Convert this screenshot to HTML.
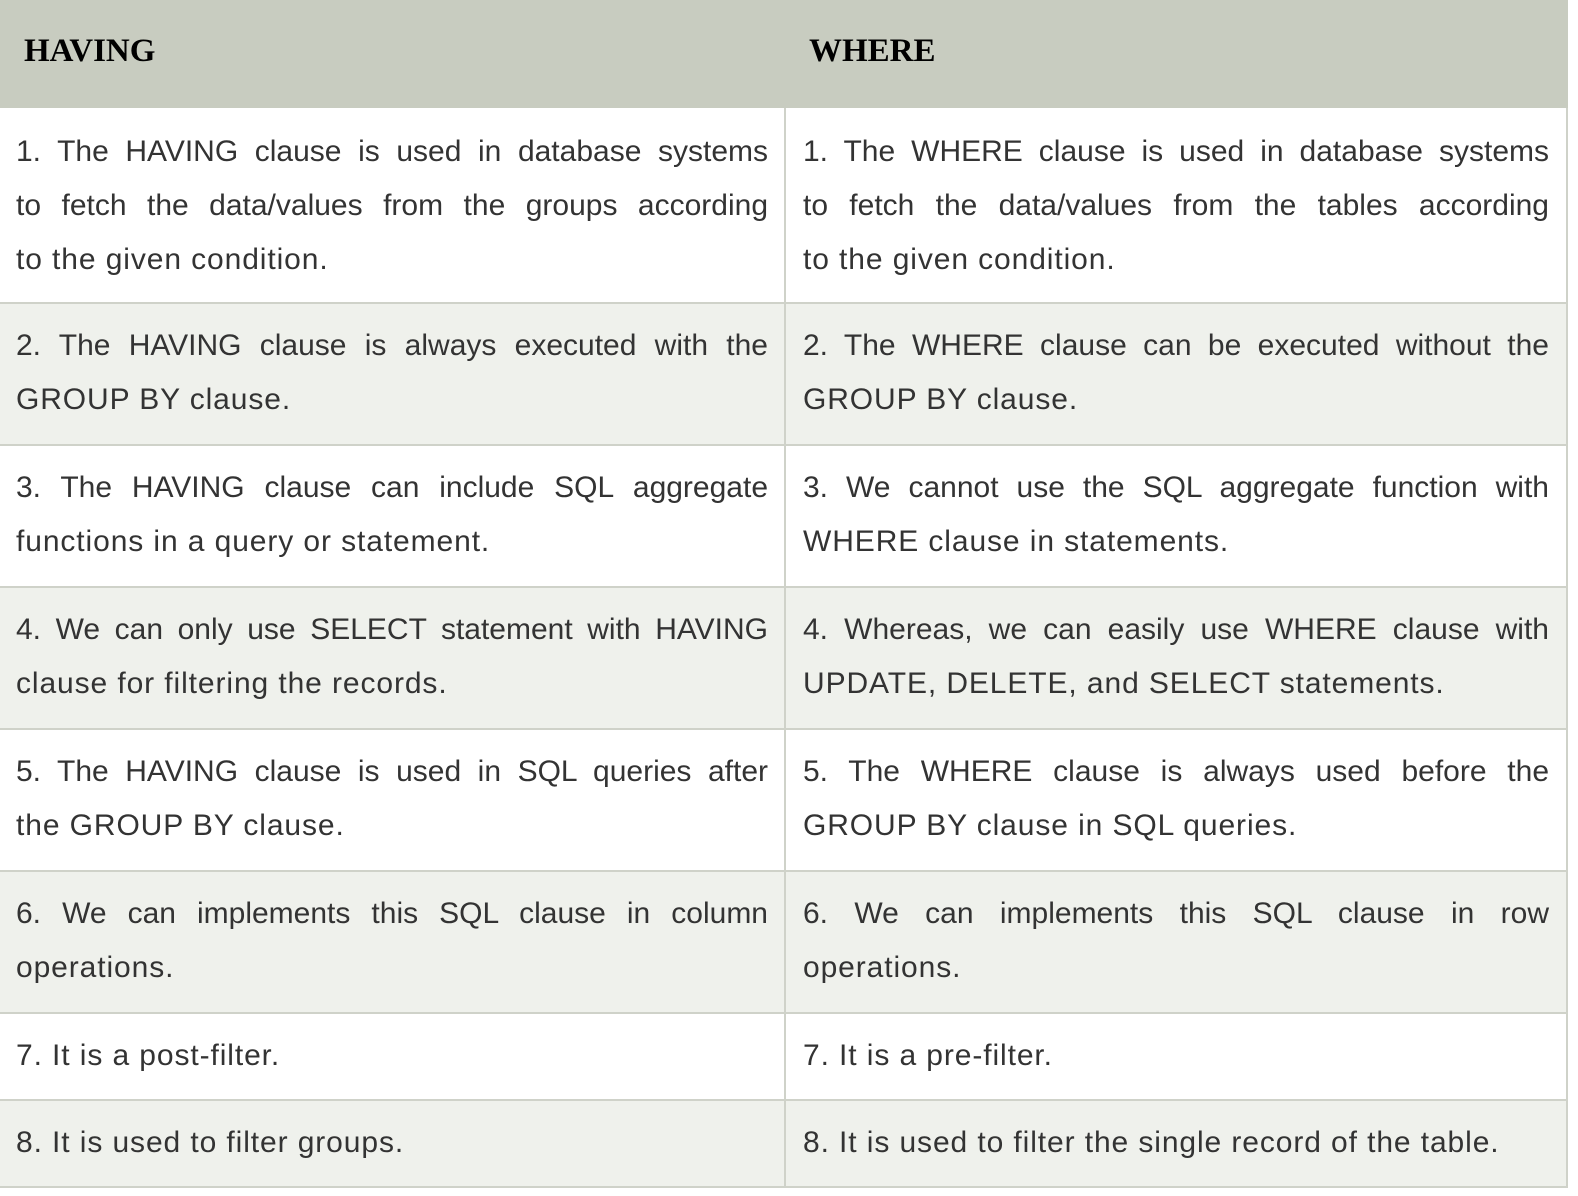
<!DOCTYPE html>
<html><head><meta charset="utf-8"><style>
*{margin:0;padding:0;box-sizing:border-box}
body{width:1578px;height:1196px;background:#fff;position:relative;overflow:hidden;font-family:"Liberation Sans",sans-serif;color:#333}
.hdr{position:absolute;left:0;top:0;width:1568px;height:108px;background:#c8ccc0}
.h{position:absolute;top:33px;font-family:"Liberation Serif",serif;font-weight:bold;font-size:33px;color:#000}
.row{position:absolute;left:0;width:1568px;border-bottom:2px solid #cfd2c9;border-right:2px solid #cfd2c9}
.alt{background:#eff1ec}
.vline{position:absolute;left:784px;top:108px;width:2px;height:1080px;background:#cfd2c9}
.c{position:absolute;top:17px;width:752px;font-size:30px;line-height:54px;letter-spacing:0.9px}
.c span{display:block;white-space:nowrap}
.c span.j{text-align:justify;text-align-last:justify;white-space:normal;letter-spacing:0}
.l{left:16px}.r{left:803px;width:746px}
</style></head><body>
<div class="hdr"><div class="h" style="left:24px">HAVING</div><div class="h" style="left:809px">WHERE</div></div>

<div class="row" style="top:108px;height:196px">
<div class="c l"><span class="j">1. The HAVING clause is used in database systems</span><span class="j">to fetch the data/values from the groups according</span><span>to the given condition.</span></div>
<div class="c r"><span class="j">1. The WHERE clause is used in database systems</span><span class="j">to fetch the data/values from the tables according</span><span>to the given condition.</span></div>
</div>
<div class="row alt" style="top:304px;height:142px">
<div class="c l" style="top:15px"><span class="j">2. The HAVING clause is always executed with the</span><span>GROUP BY clause.</span></div>
<div class="c r" style="top:15px"><span class="j">2. The WHERE clause can be executed without the</span><span>GROUP BY clause.</span></div>
</div>
<div class="row" style="top:446px;height:142px">
<div class="c l" style="top:15px"><span class="j">3. The HAVING clause can include SQL aggregate</span><span>functions in a query or statement.</span></div>
<div class="c r" style="top:15px"><span class="j">3. We cannot use the SQL aggregate function with</span><span>WHERE clause in statements.</span></div>
</div>
<div class="row alt" style="top:588px;height:142px">
<div class="c l" style="top:15px"><span class="j">4. We can only use SELECT statement with HAVING</span><span>clause for filtering the records.</span></div>
<div class="c r" style="top:15px"><span class="j">4. Whereas, we can easily use WHERE clause with</span><span>UPDATE, DELETE, and SELECT statements.</span></div>
</div>
<div class="row" style="top:730px;height:142px">
<div class="c l" style="top:15px"><span class="j">5. The HAVING clause is used in SQL queries after</span><span>the GROUP BY clause.</span></div>
<div class="c r" style="top:15px"><span class="j">5. The WHERE clause is always used before the</span><span>GROUP BY clause in SQL queries.</span></div>
</div>
<div class="row alt" style="top:872px;height:142px">
<div class="c l" style="top:15px"><span class="j">6. We can implements this SQL clause in column</span><span>operations.</span></div>
<div class="c r" style="top:15px"><span class="j">6. We can implements this SQL clause in row</span><span>operations.</span></div>
</div>
<div class="row" style="top:1014px;height:87px">
<div class="c l" style="top:15px"><span>7. It is a post-filter.</span></div>
<div class="c r" style="top:15px"><span>7. It is a pre-filter.</span></div>
</div>
<div class="row alt" style="top:1101px;height:87px">
<div class="c l" style="top:15px"><span>8. It is used to filter groups.</span></div>
<div class="c r" style="top:15px"><span>8. It is used to filter the single record of the table.</span></div>
</div>
<div class="vline"></div>
</body></html>
